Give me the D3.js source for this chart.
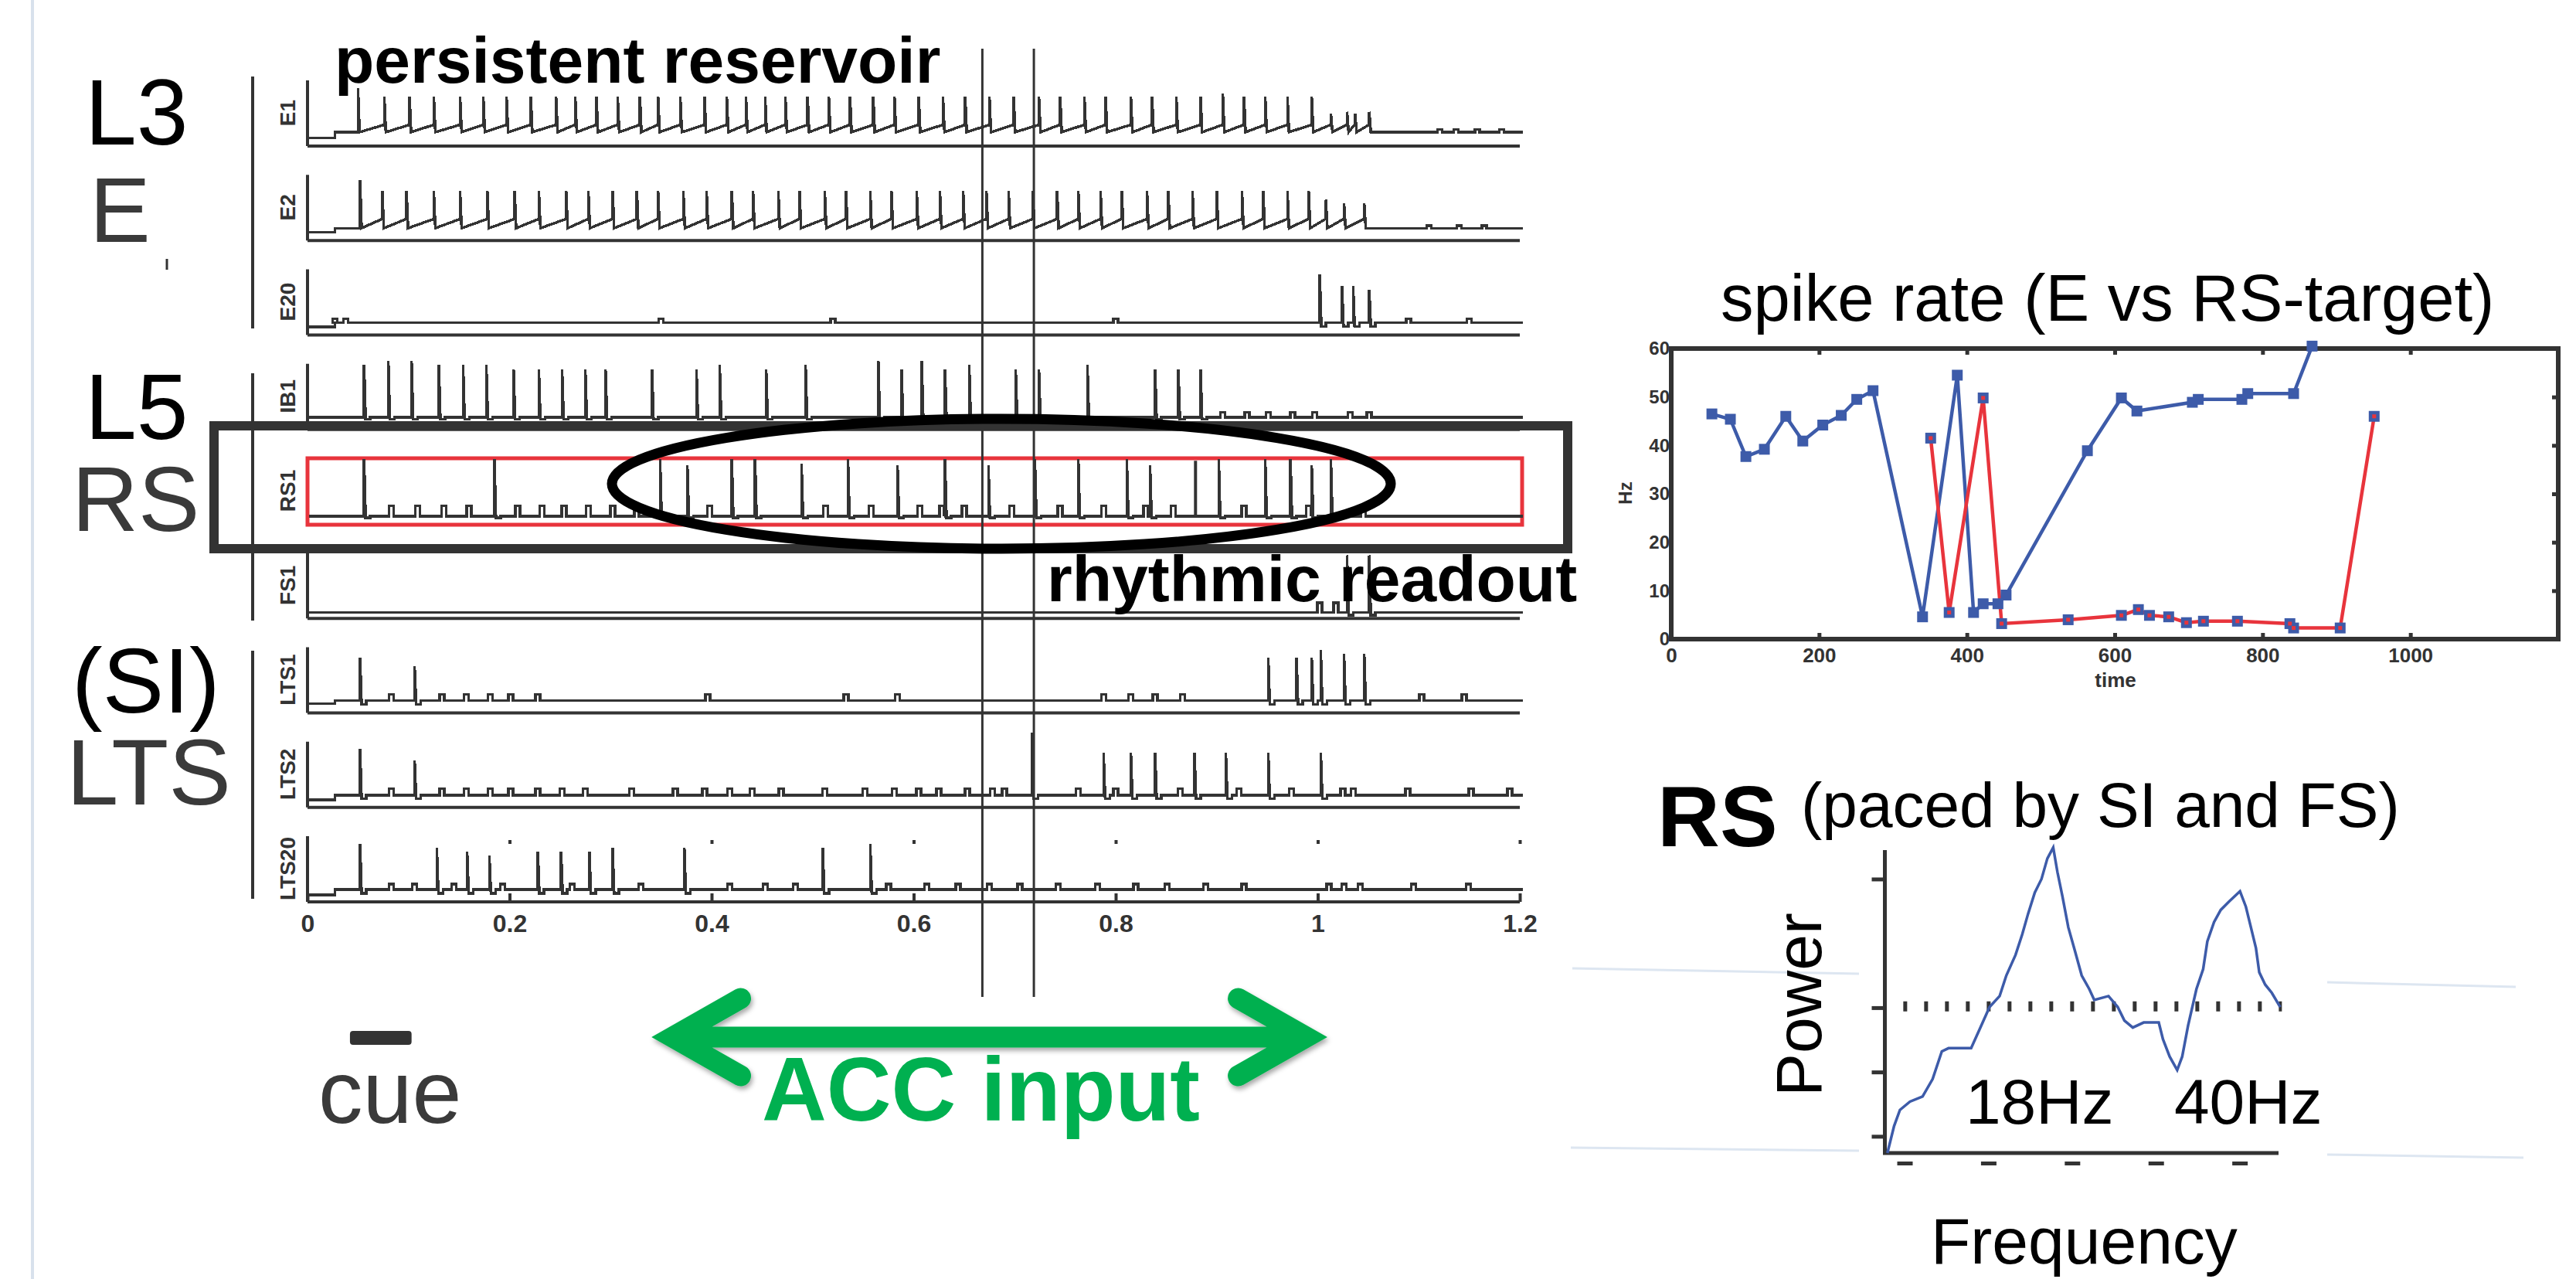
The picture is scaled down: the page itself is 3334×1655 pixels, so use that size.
<!DOCTYPE html>
<html lang="en">
<head>
<meta charset="UTF-8">
<title>Persistent reservoir / rhythmic readout</title>
<script src="https://d3js.org/d3.v7.min.js"></script>
<style>
  body { margin: 0; background: #fff; }
  text { font-family: 'Liberation Sans', Arial, sans-serif; }
  .trace { fill: none; stroke: #333; stroke-width: 3.5; shape-rendering: crispEdges; }
  .ax { stroke: #333; stroke-width: 4; }
</style>
</head>
<body>
<script>

const W = 3334, H = 1655;

// ---------- data ----------
// spike raster panels: [time (s), relative peak]
const traceLabels = ["E1", "E2", "E20", "IB1", "RS1", "FS1", "LTS1", "LTS2", "LTS20"];

const e1Spikes = [[0.050,0.86],[0.076,0.70],[0.101,0.70],[0.125,0.70],[0.151,0.70],[0.174,0.70],[0.197,0.70],[0.221,0.70],[0.246,0.70],[0.265,0.70],[0.286,0.70],[0.307,0.70],[0.329,0.70],[0.347,0.70],[0.369,0.70],[0.393,0.70],[0.415,0.70],[0.434,0.70],[0.453,0.70],[0.473,0.70],[0.495,0.70],[0.516,0.70],[0.537,0.70],[0.560,0.70],[0.581,0.70],[0.605,0.70],[0.629,0.70],[0.651,0.70],[0.675,0.70],[0.699,0.70],[0.724,0.70],[0.745,0.70],[0.769,0.70],[0.790,0.70],[0.815,0.70],[0.836,0.70],[0.860,0.70],[0.884,0.70],[0.906,0.76],[0.927,0.70],[0.948,0.70],[0.970,0.70],[0.994,0.70],[1.013,0.36],[1.029,0.40],[1.037,0.36],[1.051,0.40]];
const e1Bumps = [1.121, 1.137, 1.158, 1.182];

const e2Spikes = [[0.052,0.91],[0.074,0.71],[0.098,0.71],[0.125,0.71],[0.151,0.71],[0.178,0.71],[0.205,0.71],[0.229,0.71],[0.256,0.71],[0.278,0.71],[0.302,0.71],[0.326,0.71],[0.347,0.71],[0.372,0.71],[0.395,0.71],[0.420,0.71],[0.441,0.71],[0.466,0.71],[0.487,0.71],[0.512,0.71],[0.533,0.71],[0.557,0.71],[0.578,0.71],[0.603,0.71],[0.626,0.71],[0.649,0.71],[0.672,0.71],[0.694,0.71],[0.718,0.71],[0.742,0.71],[0.763,0.71],[0.785,0.71],[0.806,0.71],[0.831,0.71],[0.852,0.71],[0.876,0.71],[0.900,0.71],[0.925,0.71],[0.946,0.71],[0.970,0.71],[0.991,0.71],[1.008,0.54],[1.026,0.47],[1.046,0.47]];
const e2Bumps = [1.110, 1.140, 1.165];

const e3Spikes = [[1.002,0.92],[1.024,0.70],[1.035,0.70],[1.051,0.63]];
const e3Bumps = [0.027, 0.038, 0.350, 0.520, 0.800, 1.090, 1.150];

const ibSpikes = [[0.056,0.99],[0.080,1.07],[0.103,1.07],[0.130,0.99],[0.154,0.99],[0.177,0.99],[0.204,0.91],[0.229,0.91],[0.252,0.91],[0.275,0.91],[0.295,0.91],[0.341,0.91],[0.385,0.91],[0.408,0.99],[0.454,0.91],[0.493,0.99],[0.565,1.07],[0.588,0.91],[0.608,1.07],[0.631,0.91],[0.655,0.99],[0.701,0.91],[0.724,0.91],[0.772,0.99],[0.839,0.91],[0.862,0.91],[0.884,0.91]];
const ibBumps = [0.906, 0.930, 0.951, 0.975, 0.997, 1.032, 1.051];

const rsSpikes = [[0.056,1],[0.185,1],[0.349,1],[0.376,0.89],[0.420,1],[0.443,1],[0.489,0.92],[0.535,1],[0.584,0.89],[0.631,1],[0.674,0.89],[0.720,1],[0.763,1],[0.811,1],[0.834,0.89],[0.902,1],[0.948,1],[0.973,1],[0.994,0.89],[1.013,1]];
const rsBumps = [0.083,0.109,0.135,0.160,0.208,0.232,0.254,0.278,0.302,0.326,0.398,0.513,0.558,0.606,0.628,0.650,0.697,0.745,0.788,0.830,0.857,0.927,0.991,1.045];
const rsDarkSpikes = [[0.879, 0.97]];

const fsSpikes = [[1.029,0.97],[1.051,0.97]];
const fsBumps = [1.002, 1.018];

const lts1Spikes = [[0.052,0.82],[0.106,0.65],[0.951,0.82],[0.979,0.82],[0.994,0.82],[1.003,0.96],[1.026,0.89],[1.046,0.89]];
const lts1Bumps = [0.083,0.133,0.157,0.181,0.201,0.228,0.396,0.533,0.584,0.788,0.815,0.839,0.866,1.103,1.145];

const lts2Spikes = [[0.052,0.88],[0.106,0.66],[0.717,1.19],[0.788,0.81],[0.815,0.81],[0.839,0.81],[0.878,0.81],[0.909,0.81],[0.951,0.81],[1.003,0.81]];
const lts2Bumps = [0.083,0.133,0.157,0.181,0.201,0.228,0.252,0.275,0.321,0.364,0.393,0.418,0.440,0.469,0.512,0.552,0.581,0.605,0.625,0.653,0.678,0.690,0.763,0.800,0.864,0.922,0.974,1.025,1.035,1.089,1.152,1.190];

const lts3Spikes = [[0.052,0.87],[0.128,0.79],[0.158,0.72],[0.180,0.65],[0.228,0.72],[0.251,0.72],[0.279,0.72],[0.302,0.79],[0.373,0.79],[0.510,0.79],[0.557,0.87]];
const lts3Bumps = [0.083,0.106,0.145,0.193,0.262,0.330,0.418,0.453,0.483,0.575,0.613,0.644,0.675,0.705,0.743,0.782,0.820,0.851,0.889,0.927,1.011,1.026,1.042,1.095,1.149];

const timeTicks = [0, 0.2, 0.4, 0.6, 0.8, 1, 1.2];
const markerTimes = [0.668, 0.719];
const cueTime = 0.340;
const cueWindow = [0.042, 0.103];
const accWindow = [0.340, 1.010];

// spike rate (E vs RS-target)
const rateTimeE = [55,80,101,126,155,178,205,230,251,273,340,387,409,422,442,453,563,609,630,705,713,772,780,842,867];
const rateE     = [46.5,45.4,37.7,39.2,46.0,40.9,44.2,46.2,49.5,51.3,4.6,54.5,5.5,7.3,7.3,9.1,38.9,49.8,47.1,48.9,49.5,49.5,50.7,50.7,60.5];
const rateTimeRS = [351,376,422,447,537,609,632,647,673,697,720,766,837,842,905,951];
const rateRS     = [41.5,5.5,49.8,3.2,4.0,4.9,6.1,4.9,4.6,3.4,3.7,3.7,3.2,2.3,2.3,46.0];
const rateXTicks = [0, 200, 400, 600, 800, 1000];
const rateYTicks = [0, 10, 20, 30, 40, 50, 60];

// RS power spectrum
const psdFreq  = [-2.1,-1.3,-0.6,0.6,2.1,3.3,4.4,5.2,7.9,9.0,10.1,11.3,12.1,13.2,14.0,14.7,15.5,16.3,17.0,17.7,18.2,18.8,19.5,20.3,21.1,22.0,22.6,24.3,25.4,26.2,27.2,28.5,30.3,30.8,31.6,32.5,33.1,33.8,34.8,35.6,36.1,36.9,37.7,38.7,40.0,40.7,41.3,41.9,42.3,43.0,43.8,44.8];
const psdPower = [0.74,1.16,1.41,1.54,1.62,1.89,2.32,2.37,2.37,2.69,3.01,3.18,3.5,3.82,4.14,4.46,4.79,5.0,5.32,5.49,5.11,4.73,4.25,3.88,3.5,3.29,3.12,3.18,3.01,2.8,2.69,2.77,2.77,2.51,2.24,2.03,2.24,2.72,3.29,3.6,4.03,4.33,4.52,4.65,4.81,4.57,4.25,3.93,3.55,3.36,3.23,3.01];
const psdThreshold = 3.02;
const psdXTicks = [0, 10, 20, 30, 40];
const psdYTicks = [1, 2, 3, 5];

// ---------- svg ----------
const svg = d3.select("body").append("svg")
    .attr("width", W).attr("height", H)
    .attr("viewBox", `0 0 ${W} ${H}`);

const defs = svg.append("defs");
defs.append("filter").attr("id", "shadow")
    .attr("x", "-20%").attr("y", "-50%").attr("width", "140%").attr("height", "200%")
  .append("feDropShadow")
    .attr("dx", 2).attr("dy", 4).attr("stdDeviation", 3)
    .attr("flood-color", "#000").attr("flood-opacity", 0.35);

// slide decoration lines
svg.append("line").attr("x1", 42).attr("x2", 42).attr("y1", 0).attr("y2", H)
    .attr("stroke", "#d8e1ec").attr("stroke-width", 4);
[[2035,1253,2406,1260],[3012,1271,3256,1277],[2033,1485,2406,1489],[3012,1494,3266,1498]].forEach(s =>
  svg.append("line").attr("x1", s[0]).attr("y1", s[1]).attr("x2", s[2]).attr("y2", s[3])
     .attr("stroke", "#dde6f1").attr("stroke-width", 3));

// ---------- trace panels ----------
const tx = d3.scaleLinear().domain([0, 1.2]).range([398, 1967]);
const rowTop = d3.scaleLinear().domain([0, 8]).range([104, 1082]);
const PANEL_H = 85;

const panels = [
  {spikes: e1Spikes,   bumps: e1Bumps,   off: 18, ramp: 0.14, dip: 0,     start: -0.11, bump: 0.05},
  {spikes: e2Spikes,   bumps: e2Bumps,   off: 16, ramp: 0.17, dip: 0,     start: -0.08, bump: 0.05},
  {spikes: e3Spikes,   bumps: e3Bumps,   off: 16, ramp: 0,    dip: -0.07, start: -0.08, bump: 0.07},
  {spikes: ibSpikes,   bumps: ibBumps,   off: 16, ramp: 0,    dip: -0.04, start: 0,     bump: 0.09},
  {spikes: rsSpikes,   bumps: rsBumps,   off: 10, ramp: 0,    dip: -0.03, start: 0,     bump: 0.18, red: true},
  {spikes: fsSpikes,   bumps: fsBumps,   off: 8,  ramp: 0,    dip: -0.05, start: 0,     bump: 0.16},
  {spikes: lts1Spikes, bumps: lts1Bumps, off: 16, ramp: 0,    dip: -0.07, start: -0.06, bump: 0.12},
  {spikes: lts2Spikes, bumps: lts2Bumps, off: 16, ramp: 0,    dip: -0.07, start: -0.09, bump: 0.12},
  {spikes: lts3Spikes, bumps: lts3Bumps, off: 16, ramp: 0,    dip: -0.07, start: -0.10, bump: 0.10}
];

function tracePath(p, y) {
  const ev = p.spikes.map(d => ({t: d[0], a: d[1], s: true}))
    .concat(p.bumps.map(t => ({t: t, a: p.bump, s: false})))
    .sort((a, b) => a.t - b.t);
  const path = d3.path();
  path.moveTo(tx(0) + 2, y(p.start));
  path.lineTo(tx(0.027), y(p.start));
  path.lineTo(tx(0.027), y(0));
  ev.forEach((e, i) => {
    const xe = tx(e.t);
    const prev = ev[i - 1], next = ev[i + 1];
    if (e.s) {
      const pre = (p.ramp && prev && prev.s) ? p.ramp : 0;
      path.lineTo(xe - 1, y(pre));
      path.lineTo(xe, y(pre));
      path.lineTo(xe, y(e.a));
      path.lineTo(xe + 2, y(p.dip));
      if (!p.ramp || !next || !next.s) {
        path.lineTo(xe + 8, y(p.dip));
        path.lineTo(xe + 8, y(0));
      }
    } else {
      path.lineTo(xe - 3, y(0));
      path.lineTo(xe - 3, y(e.a));
      path.lineTo(xe + 3, y(e.a));
      path.lineTo(xe + 3, y(0));
    }
  });
  path.lineTo(tx(1.2) + 4, y(0));
  return path.toString();
}

const gPanels = svg.append("g");
panels.forEach((p, i) => {
  const T = rowTop(i), B = T + PANEL_H;
  const y = d3.scaleLinear().domain([0, 1]).range([B - p.off, T + 1]);
  const g = gPanels.append("g");

  if (p.red) {
    g.append("rect")
      .attr("x", tx(0)).attr("y", T).attr("width", tx(1.2) - tx(0) + 3).attr("height", PANEL_H + 1)
      .attr("fill", "none").attr("stroke", "#e8343c").attr("stroke-width", 5);
    g.append("path").attr("class", "trace").attr("d", tracePath(p, y))
      .attr("stroke", "#e8343c").attr("stroke-width", 4);
    g.selectAll("line.dark").data(rsDarkSpikes).join("line")
      .attr("x1", d => tx(d[0])).attr("x2", d => tx(d[0]))
      .attr("y1", y(0)).attr("y2", d => y(d[1]))
      .attr("stroke", "#333").attr("stroke-width", 4);
  } else {
    g.append("line").attr("class", "ax")
      .attr("x1", tx(0)).attr("x2", tx(0)).attr("y1", T).attr("y2", B);
    g.append("line").attr("class", "ax").attr("stroke-width", 5)
      .attr("x1", tx(0)).attr("x2", tx(1.2)).attr("y1", B).attr("y2", B);
    g.append("path").attr("class", "trace").attr("d", tracePath(p, y));
  }

  g.append("text")
    .attr("transform", `translate(382,${T + 42}) rotate(-90)`)
    .attr("text-anchor", "middle")
    .attr("font-size", 28).attr("font-weight", "bold").attr("fill", "#333")
    .text(traceLabels[i]);
});

// time axis under the last panel
const lastB = rowTop(8) + PANEL_H;
const timeAxis = gPanels.append("g")
    .attr("transform", `translate(0,${lastB})`)
    .call(d3.axisBottom(tx).tickValues(timeTicks).tickSize(-11).tickPadding(16).tickFormat(d => String(d)));
timeAxis.select(".domain").remove();
timeAxis.selectAll(".tick line").attr("stroke", "#333").attr("stroke-width", 4);
timeAxis.selectAll(".tick text").attr("font-size", 32).attr("font-weight", "bold").attr("fill", "#333")
    .attr("font-family", "'Liberation Sans', Arial, sans-serif");
const topDots = gPanels.append("g")
    .attr("transform", `translate(0,${rowTop(8) + 10})`)
    .call(d3.axisTop(tx).tickValues(timeTicks.slice(1)).tickSize(5).tickFormat(""));
topDots.select(".domain").remove();
topDots.selectAll(".tick line").attr("stroke", "#333").attr("stroke-width", 4);

// label column separators
[[99, 425], [483, 803], [842, 1163]].forEach(s =>
  svg.append("line").attr("class", "ax").attr("x1", 327).attr("x2", 327).attr("y1", s[0]).attr("y2", s[1]));

// marker lines
svg.selectAll("line.marker").data(markerTimes).join("line")
    .attr("x1", d => tx(d)).attr("x2", d => tx(d)).attr("y1", 63).attr("y2", 1290)
    .attr("stroke", "#333").attr("stroke-width", 3);

// RS highlight box and ellipse
svg.append("rect").attr("x", 277).attr("y", 551).attr("width", 1752).attr("height", 159)
    .attr("fill", "none").attr("stroke", "#333").attr("stroke-width", 12);
svg.append("ellipse").attr("cx", 1296).attr("cy", 626).attr("rx", 504).attr("ry", 84)
    .attr("fill", "none").attr("stroke", "#000").attr("stroke-width", 13);

// cue lines
[[548, 710], [1028, 1190]].forEach(s =>
  svg.append("line").attr("x1", tx(cueTime)).attr("x2", tx(cueTime)).attr("y1", s[0]).attr("y2", s[1])
    .attr("stroke", "#00b050").attr("stroke-width", 10).attr("stroke-linecap", "round")
    .attr("filter", "url(#shadow)"));

// group labels
function label(txt, x, y, size, fill, weight) {
  return svg.append("text").attr("x", x).attr("y", y).attr("font-size", size)
    .attr("fill", fill).attr("font-weight", weight || "normal").text(txt);
}
[78, 462].forEach(y =>
  svg.append("line").attr("x1", 90).attr("x2", 311).attr("y1", y).attr("y2", y)
    .attr("stroke", "#000").attr("stroke-width", 5).attr("filter", "url(#shadow)"));
label("L3", 110, 187, 120, "#000");
label("E", 116, 313, 118, "#3a3a3a");
svg.append("line").attr("x1", 216).attr("x2", 216).attr("y1", 335).attr("y2", 349).attr("stroke", "#333").attr("stroke-width", 3);
label("L5", 110, 568, 120, "#000");
label("RS", 93, 687, 119, "#3a3a3a");
label("(SI)", 93, 922, 119, "#000");
label("LTS", 86, 1041, 121, "#3a3a3a");

label("persistent reservoir", 433, 107, 84, "#000", "bold");
label("rhythmic readout", 1355, 778, 84, "#000", "bold");

// cue and ACC input
svg.append("rect").attr("x", tx(cueWindow[0])).attr("y", 1334)
    .attr("width", tx(cueWindow[1]) - tx(cueWindow[0])).attr("height", 18).attr("rx", 4)
    .attr("fill", "#333");
label("cue", 412, 1453, 115, "#3a3a3a");

const ax0 = tx(accWindow[0]), ax1 = tx(accWindow[1]), ay = 1342;
const inset = 28, headL = 88, spread = 50;
const arrow = d3.path();
arrow.moveTo(ax0 + inset + 6, ay); arrow.lineTo(ax1 - inset - 6, ay);
arrow.moveTo(ax0 + inset + headL, ay - spread); arrow.lineTo(ax0 + inset, ay); arrow.lineTo(ax0 + inset + headL, ay + spread);
arrow.moveTo(ax1 - inset - headL, ay - spread); arrow.lineTo(ax1 - inset, ay); arrow.lineTo(ax1 - inset - headL, ay + spread);
svg.append("path").attr("d", arrow.toString())
    .attr("fill", "none").attr("stroke", "#00b050").attr("stroke-width", 27)
    .attr("stroke-linejoin", "miter").attr("stroke-miterlimit", 10).attr("stroke-linecap", "round")
    .attr("filter", "url(#shadow)");
label("ACC input", 986, 1450, 116, "#00b050", "bold");

// ---------- spike rate chart ----------
const rx = d3.scaleLinear().domain([0, 1200]).range([2163, 3311]);
const ry = d3.scaleLinear().domain([0, 60]).range([827, 451]);
const gr = svg.append("g");

label("spike rate (E vs RS-target)", 2227, 415, 85, "#000");

function tidy(sel) {
  sel.select(".domain").remove();
  sel.selectAll(".tick line").attr("stroke", "#333").attr("stroke-width", 5);
  sel.selectAll(".tick text").attr("fill", "#333").attr("font-weight", "bold")
     .attr("font-family", "'Liberation Sans', Arial, sans-serif");
  return sel;
}
tidy(gr.append("g").attr("transform", "translate(0,451)")
  .call(d3.axisTop(rx).tickValues(rateXTicks.slice(1)).tickSize(-8).tickFormat("")));
tidy(gr.append("g").attr("transform", "translate(0,827)")
  .call(d3.axisBottom(rx).tickValues(rateXTicks).tickSize(-8).tickPadding(12).tickFormat(d => String(d))))
  .selectAll(".tick text").attr("font-size", 26);
tidy(gr.append("g").attr("transform", "translate(3311,0)")
  .call(d3.axisRight(ry).tickValues(rateYTicks.slice(1, -1)).tickSize(-8).tickFormat("")));
tidy(gr.append("g").attr("transform", "translate(2163,0)")
  .call(d3.axisLeft(ry).tickValues(rateYTicks).tickSize(0).tickPadding(2).tickFormat(d => String(d))))
  .selectAll(".tick text").attr("font-size", 24);

gr.append("rect").attr("x", rx(0)).attr("y", ry(60)).attr("width", rx(1200) - rx(0)).attr("height", ry(0) - ry(60))
    .attr("fill", "none").attr("stroke", "#333").attr("stroke-width", 6);
gr.append("text").attr("transform", "translate(2112,638) rotate(-90)").attr("text-anchor", "middle")
    .attr("font-size", 24).attr("font-weight", "bold").attr("fill", "#333").text("Hz");
gr.append("text").attr("x", 2738).attr("y", 889).attr("text-anchor", "middle")
    .attr("font-size", 26).attr("font-weight", "bold").attr("fill", "#333").text("time");

const eSeries = rateTimeE.map((t, i) => [t, rateE[i]]);
const rsSeries = rateTimeRS.map((t, i) => [t, rateRS[i]]);
const rateLine = d3.line().x(d => rx(d[0])).y(d => ry(d[1]));
gr.append("path").attr("d", rateLine(eSeries)).attr("fill", "none").attr("stroke", "#3d5ba9").attr("stroke-width", 4.5);
gr.append("path").attr("d", rateLine(rsSeries)).attr("fill", "none").attr("stroke", "#e8343c").attr("stroke-width", 4.5);
gr.selectAll("rect.me").data(eSeries).join("rect").attr("class", "me")
    .attr("x", d => rx(d[0]) - 7).attr("y", d => ry(d[1]) - 7).attr("width", 14).attr("height", 14)
    .attr("fill", "#3d5ba9");
gr.selectAll("rect.mr").data(rsSeries).join("rect").attr("class", "mr")
    .attr("x", d => rx(d[0]) - 7).attr("y", d => ry(d[1]) - 7).attr("width", 14).attr("height", 14)
    .attr("fill", "#3d5ba9");
gr.selectAll("rect.mri").data(rsSeries).join("rect").attr("class", "mri")
    .attr("x", d => rx(d[0]) - 2.5).attr("y", d => ry(d[1]) - 2.5).attr("width", 5).attr("height", 5)
    .attr("fill", "#e8343c");

// ---------- RS power spectrum ----------
const px = d3.scaleLinear().domain([-2.4, 44.6]).range([2439.5, 2949]);
const py = d3.scaleLinear().domain([0.74, 5.45]).range([1492, 1100]);
const gp = svg.append("g");

svg.append("text").attr("x", 2145).attr("y", 1095).attr("font-size", 112).attr("font-weight", "bold").text("RS");
label("(paced by SI and FS)", 2331, 1070, 82, "#000");

gp.append("path")
    .attr("d", `M${px.range()[0]},${py.range()[1]}V${py.range()[0]}H${px.range()[1]}`)
    .attr("fill", "none").attr("stroke", "#333").attr("stroke-width", 5);
const pyAxis = gp.append("g").attr("transform", `translate(${px.range()[0]},0)`)
    .call(d3.axisLeft(py).tickValues(psdYTicks).tickSize(17).tickFormat(""));
pyAxis.select(".domain").remove();
pyAxis.selectAll(".tick line").attr("stroke", "#333").attr("stroke-width", 5);
gp.selectAll("rect.xt").data(psdXTicks).join("rect").attr("class", "xt")
    .attr("x", d => px(d) - 10).attr("y", 1503).attr("width", 20).attr("height", 5).attr("fill", "#333");

gp.append("line").attr("x1", px(-0.2)).attr("x2", px(45)).attr("y1", py(psdThreshold)).attr("y2", py(psdThreshold))
    .attr("stroke", "#333").attr("stroke-width", 13).attr("stroke-dasharray", "5 22");
gp.append("path")
    .attr("d", d3.line().x(d => px(d[0])).y(d => py(d[1]))(psdFreq.map((f, i) => [f, psdPower[i]])))
    .attr("fill", "none").attr("stroke", "#3d5ba9").attr("stroke-width", 3.5);

gp.append("text").attr("transform", "translate(2357,1300) rotate(-90)").attr("text-anchor", "middle")
    .attr("font-size", 84).text("Power");
label("18Hz", 2544, 1454, 82, "#000");
label("40Hz", 2814, 1454, 82, "#000");
label("Frequency", 2499, 1635, 84, "#000");

</script>
</body>
</html>
